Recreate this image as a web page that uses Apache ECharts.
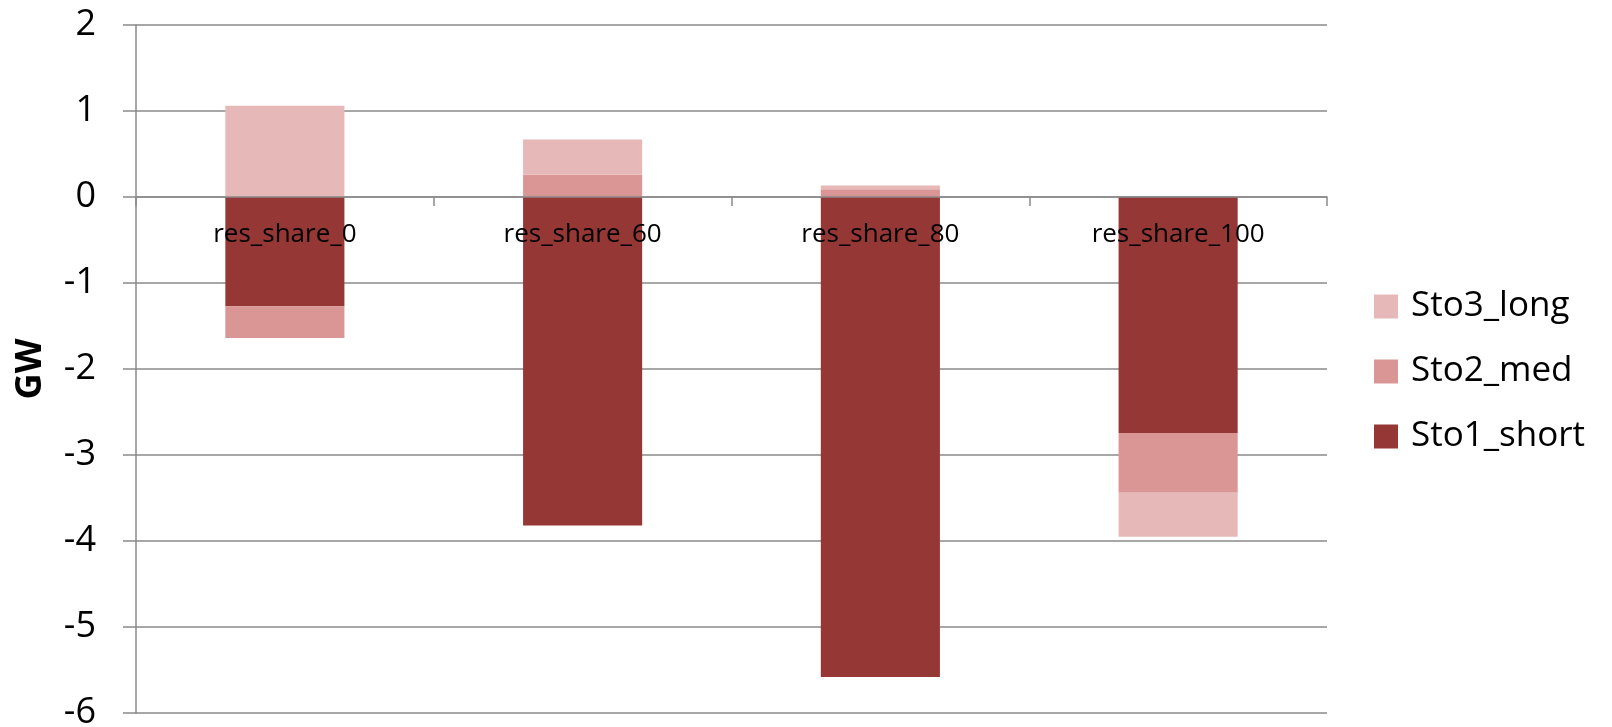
<!DOCTYPE html>
<html>
<head>
<meta charset="utf-8">
<title>Storage capacity by RES share</title>
<script src="https://cdn.jsdelivr.net/npm/echarts@6/dist/echarts.min.js"></script>
<style>
  html, body { margin: 0; padding: 0; background: #ffffff; }
  #chart { width: 1612px; height: 727px; }
</style>
</head>
<body>
<div id="chart"></div>
<script>
// Scenario categories on the x axis
const categories = ['res_share_0', 'res_share_60', 'res_share_80', 'res_share_100'];

// Storage power per technology, GW (stacked, positive and negative parts separately)
const sto1Short = [-1.27, -3.82, -5.58, -2.745];
const sto2Med   = [-0.37, 0.26, 0.09, -0.695];
const sto3Long  = [1.06, 0.41, 0.045, -0.51];

// Value axis range and step
const yMin = -6;
const yMax = 2;
const yStep = 1;

const FONT = '"Open Sans", "Noto Sans", sans-serif';
const GRID_GREY = '#8a8a8a';

const GRID_TOP = 25;
const GRID_HEIGHT = 688;
// distance from the top of the plot down to the zero line
const zeroOffset = GRID_HEIGHT * (yMax - 0) / (yMax - yMin);

const chart = echarts.init(document.getElementById('chart'), null, { renderer: 'canvas' });

function barSeries(name, values, color) {
  return {
    name: name,
    type: 'bar',
    stack: 'total',
    barWidth: '40%',
    data: values,
    itemStyle: { color: color },
    emphasis: { disabled: true }
  };
}

chart.setOption({
  animation: false,
  backgroundColor: '#ffffff',
  grid: { left: 136, top: GRID_TOP, width: 1191, height: GRID_HEIGHT, outerBoundsMode: 'none' },
  legend: {
    orient: 'vertical',
    left: 1369,
    top: 284,
    itemWidth: 24,
    itemHeight: 24,
    itemGap: 30,
    icon: 'rect',
    data: ['Sto3_long', 'Sto2_med', 'Sto1_short'],
    textStyle: {
      fontFamily: FONT,
      fontSize: 35,
      color: '#000000',
      padding: [0, 0, 0, 8]
    }
  },
  xAxis: [
    {
      // zero line with category boundary ticks
      type: 'category',
      data: categories,
      z: 10,
      axisLine: { onZero: true, lineStyle: { color: GRID_GREY, width: 1.5 } },
      axisTick: { show: true, length: 9, lineStyle: { color: GRID_GREY, width: 1.5 } },
      axisLabel: { show: false },
      splitLine: { show: false }
    },
    {
      // category names hanging just below the zero line, drawn over the bars
      type: 'category',
      data: categories,
      position: 'top',
      offset: -zeroOffset,
      z: 11,
      axisLine: { show: false, onZero: false },
      axisTick: { show: false },
      axisLabel: {
        inside: true,
        interval: 0,
        margin: 25,
        fontFamily: FONT,
        fontSize: 26,
        color: '#000000',
        verticalAlign: 'top'
      },
      splitLine: { show: false }
    }
  ],
  yAxis: {
    type: 'value',
    min: yMin,
    max: yMax,
    interval: yStep,
    name: 'GW',
    nameLocation: 'middle',
    nameGap: 87,
    nameRotate: 90,
    nameTextStyle: {
      fontFamily: FONT,
      fontSize: 36,
      fontWeight: 'bold',
      color: '#000000'
    },
    axisLine: { show: true, lineStyle: { color: GRID_GREY, width: 1.5 } },
    axisTick: { show: true, length: 13, lineStyle: { color: GRID_GREY, width: 1.5 } },
    axisLabel: {
      margin: 40,
      fontFamily: FONT,
      fontSize: 36,
      color: '#000000'
    },
    splitLine: { show: true, lineStyle: { color: GRID_GREY, width: 1.5 } }
  },
  series: [
    barSeries('Sto1_short', sto1Short, '#953735'),
    barSeries('Sto2_med', sto2Med, '#d99694'),
    barSeries('Sto3_long', sto3Long, '#e6b9b8')
  ]
});
</script>
</body>
</html>
